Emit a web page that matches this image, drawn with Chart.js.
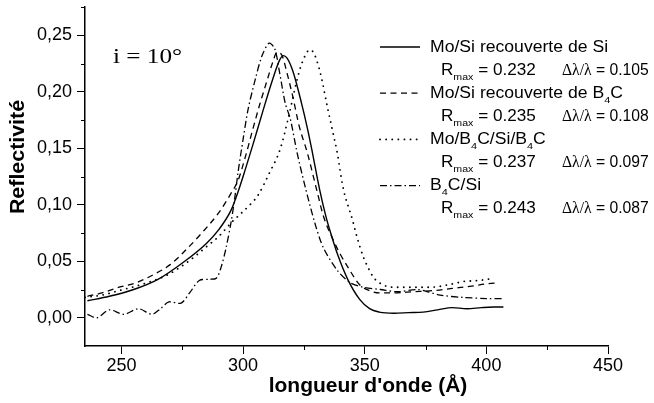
<!DOCTYPE html>
<html><head><meta charset="utf-8">
<script src="https://cdn.jsdelivr.net/npm/chart.js@4/dist/chart.umd.min.js"></script>
<style>html,body{margin:0;padding:0;background:#fff}#wrap{width:654px;height:403px;position:relative}</style>
</head><body><div id="wrap"><canvas id="c" width="654" height="403"></canvas></div>
<script>
// ---- data ----
const siX = [236,245,255,265,276,285,290,295,298,301,304,308,312,315,316.5,318,320.5,324,326.5,328.5,331.5,334,336,339,343,348,352,356,362,368,374,380,386,392,398,403,407];
const siY = [0.015,0.019,0.025,0.034,0.050,0.066,0.078,0.095,0.112,0.132,0.153,0.182,0.210,0.228,0.232,0.230,0.218,0.190,0.167,0.146,0.113,0.090,0.075,0.055,0.034,0.016,0.008,0.005,0.004,0.0045,0.005,0.007,0.009,0.008,0.009,0.0095,0.0095];

const b4cX = [236,242,249,256,263,270,276,283,290,295,298,301,304,307,310,312,314,316,318,320.5,323,326.4,330.5,333,337,340,343,348,352,356,362,370,378,386,394,400,405];
const b4cY = [0.019,0.022,0.027,0.031,0.038,0.047,0.059,0.075,0.093,0.110,0.122,0.143,0.167,0.190,0.211,0.225,0.235,0.232,0.217,0.195,0.170,0.146,0.111,0.090,0.069,0.056,0.045,0.029,0.024,0.022,0.022,0.023,0.024,0.026,0.028,0.030,0.031];

const moB4cX = [235,242,249,256,262,269,275,280,285,290,295.5,299,303.7,306,311,315.2,318.5,320.5,322.2,324.3,326,327.2,328.5,331.7,334.6,336.6,338.7,341,344.9,347,349.4,351.5,353.5,357.6,362,370,377,384,390.5,397,403];
const moB4cY = [0.018,0.020,0.024,0.028,0.032,0.038,0.046,0.054,0.063,0.072,0.085,0.092,0.102,0.108,0.129,0.149,0.176,0.195,0.211,0.226,0.234,0.237,0.236,0.217,0.187,0.167,0.146,0.116,0.087,0.070,0.054,0.044,0.036,0.029,0.027,0.027,0.027,0.029,0.032,0.033,0.035];

const b4cSiX = [236,240,245,251,257,262.5,266,269.5,274.5,278,282,286,289,291,293,295,296.5,298,300,302,305,307.8,310.7,313,315,317.3,319.4,322.2,325.5,329.6,333,338.7,344,349.4,356.4,363.4,371.6,376,381,390.5,400,407];
const b4cSiY = [0.003,0.000,0.007,0.003,0.008,0.003,0.008,0.014,0.013,0.022,0.033,0.034,0.035,0.045,0.062,0.084,0.105,0.130,0.158,0.184,0.211,0.232,0.243,0.238,0.217,0.190,0.176,0.146,0.116,0.083,0.062,0.042,0.031,0.027,0.025,0.023,0.025,0.023,0.020,0.018,0.017,0.017];

const seriesNames = ['Mo/Si recouverte de Si','Mo/Si recouverte de B_{4}C','Mo/B_{4}C/Si/B_{4}C','B_{4}C/Si'];
const rmaxValues = ['0.232','0.235','0.237','0.243'];
const widthValues = ['0.105','0.108','0.097','0.087'];

const xTicks = [250,300,350,400,450];
const xTickLabels = ['250','300','350','400','450'];
const xMinorTicks = [275,325,375,425];
const yTicks = [0,0.05,0.10,0.15,0.20,0.25];
const yTickLabels = ['0,00','0,05','0,10','0,15','0,20','0,25'];
const yMinorTicks = [0.025,0.075,0.125,0.175,0.225,0.275];

const xTitle = "longueur d'onde (\u00C5)";
const yTitle = 'Reflectivit\u00E9';
const angleNote = 'i = 10\u00B0';

// ---- styles ----
const SANS = '"Liberation Sans", Arial, sans-serif';
const SERIF = '"Liberation Serif", "Times New Roman", serif';
const dashes = [[], [6,4.5], [0.1,6], [7,3,1.5,3]];
const caps = ['butt','butt','round','butt'];
const widths = [1.4,1.3,1.8,1.3];
const modes = ['monotone','monotone','monotone','default'];

function mk(i, xs, ys){
  return {label: seriesNames[i], data: xs.map((x,k)=>({x:x, y:ys[k]})),
    borderColor:'#000', borderWidth: widths[i], borderDash: dashes[i], borderCapStyle: caps[i],
    pointRadius:0, fill:false, cubicInterpolationMode: modes[i], tension: i===3 ? 0.3 : 0.4};
}

function drawRich(ctx, x, y, str, size, family, hs){
  const parts = str.split(/_\{([^}]*)\}/);
  let cx = x;
  parts.forEach((p,i)=>{
    if(!p) return;
    const sub = i%2===1;
    const fs = sub ? size*0.62 : size;
    ctx.font = fs+'px '+family;
    const w = ctx.measureText(p).width*hs;
    ctx.save(); ctx.translate(cx, y + (sub ? size*0.3 : 0)); ctx.scale(hs,1);
    ctx.fillText(p,0,0); ctx.restore();
    cx += w;
  });
  return cx;
}

const decor = {
  id:'decor',
  afterDraw(chart){
    const ctx = chart.ctx, xs = chart.scales.x, ys = chart.scales.y;
    ctx.save();
    ctx.strokeStyle='#000'; ctx.fillStyle='#000'; ctx.lineWidth=1;
    // minor ticks
    xMinorTicks.forEach(v=>{const p=Math.round(xs.getPixelForValue(v))+0.5; ctx.beginPath(); ctx.moveTo(p, xs.top); ctx.lineTo(p, xs.top+4); ctx.stroke();});
    yMinorTicks.forEach(v=>{const p=Math.round(ys.getPixelForValue(v))+0.5; ctx.beginPath(); ctx.moveTo(ys.right, p); ctx.lineTo(ys.right-4, p); ctx.stroke();});
    ctx.textBaseline='alphabetic'; ctx.textAlign='left';
    // legend
    for(let i=0;i<4;i++){
      const cy = 46 + i*46.2;
      const cy2 = cy + 23.1;
      ctx.save();
      ctx.lineWidth = widths[i]; ctx.setLineDash(dashes[i]); ctx.lineCap = caps[i];
      ctx.beginPath(); ctx.moveTo(380, cy+1); ctx.lineTo(420, cy+1); ctx.stroke();
      ctx.restore();
      drawRich(ctx, 430, cy+5.7, seriesNames[i], 16, SANS, 1.1);
      drawRich(ctx, 441, cy2+5.7, 'R_{max} = '+rmaxValues[i], 16, SANS, 1.07);
      let ex = drawRich(ctx, 562, cy2+5.7, '\u0394\u03BB/\u03BB', 16.5, SERIF, 0.95);
      drawRich(ctx, ex, cy2+5.7, ' = '+widthValues[i], 16, SANS, 0.98);
    }
    // angle note
    drawRich(ctx, 113, 63, angleNote, 21, SERIF, 1.2);
    // axis titles
    ctx.font = 'bold 20px '+SANS;
    ctx.textAlign='center'; ctx.textBaseline='middle';
    ctx.save(); ctx.translate(368, 386); ctx.scale(1.05,1); ctx.fillText(xTitle,0,0); ctx.restore();
    ctx.save(); ctx.translate(18, 157); ctx.rotate(-Math.PI/2); ctx.scale(1.07,1); ctx.fillText(yTitle,0,0); ctx.restore();
    ctx.restore();
  }
};

new Chart(document.getElementById('c'), {
  type:'line',
  data:{datasets:[mk(0,siX,siY), mk(1,b4cX,b4cY), mk(2,moB4cX,moB4cY), mk(3,b4cSiX,b4cSiY)]},
  options:{
    responsive:false, animation:false, devicePixelRatio:1,
    layout:{padding:{top:7,right:46,bottom:0,left:0}},
    plugins:{legend:{display:false}, tooltip:{enabled:false}},
    scales:{
      x:{type:'linear', min:235, max:450,
        afterBuildTicks:s=>{s.ticks = xTicks.map(v=>({value:v}));},
        afterFit:s=>{s.height=57; s.paddingLeft=0; s.paddingRight=0;},
        ticks:{font:{family:SANS,size:18}, color:'#000', padding:1, maxRotation:0, autoSkip:false,
          callback:(v,i)=>xTickLabels[i]},
        grid:{drawOnChartArea:false, tickLength:8, tickColor:'#000', tickWidth:1},
        border:{color:'#000', width:1.5}},
      y:{type:'linear', min:-0.025, max:0.275,
        afterBuildTicks:s=>{s.ticks = yTicks.map(v=>({value:v}));},
        afterFit:s=>{s.width=85; s.paddingTop=0; s.paddingBottom=0;},
        ticks:{font:{family:SANS,size:18}, color:'#000', padding:5, autoSkip:false,
          callback:(v,i)=>yTickLabels[i]},
        grid:{drawOnChartArea:false, tickLength:8, tickColor:'#000', tickWidth:1},
        border:{color:'#000', width:1.5}}
    }
  },
  plugins:[decor]
});
</script></body></html>
